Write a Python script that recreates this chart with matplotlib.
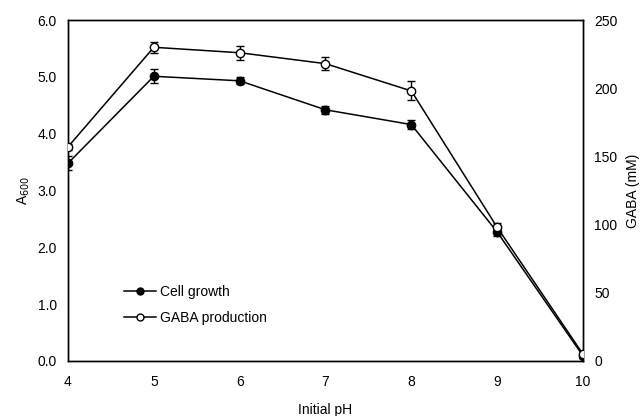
import matplotlib
matplotlib.use("Agg")
import matplotlib.pyplot as plt
from matplotlib.lines import Line2D

plt.rcParams['font.family'] = ['Liberation Sans', 'DejaVu Sans']

ph = [4, 5, 6, 7, 8, 9, 10]
cell_growth = [3.48, 5.01, 4.93, 4.42, 4.16, 2.27, 0.09]
cell_err = [0.12, 0.12, 0.06, 0.07, 0.08, 0.07, 0.03]
gaba = [157, 230, 226, 218, 198, 98, 5]
gaba_err = [2, 4, 5, 5, 7, 3, 2]

fig = plt.figure(figsize=(6.42, 4.16), dpi=100)
ax = fig.add_axes([68/642, 55/416, (583-68)/642, (361-20)/416])
ax2 = ax.twinx()

ax.errorbar(ph, cell_growth, yerr=cell_err, color='black', marker='o', markersize=6,
            markerfacecolor='black', lw=1.1, capsize=3, elinewidth=1, capthick=1, zorder=3)
ax2.errorbar(ph, gaba, yerr=gaba_err, color='black', marker='o', markersize=6,
             markerfacecolor='white', lw=1.1, capsize=3, elinewidth=1, capthick=1, zorder=3)

ax.set_xlim(4, 10)
ax.set_ylim(0, 6.0)
ax2.set_ylim(0, 250)
ax.set_xticks(ph)
ax.set_yticks([0, 1, 2, 3, 4, 5, 6])
ax.set_yticklabels([f"{v:.1f}" for v in [0, 1, 2, 3, 4, 5, 6]])
ax2.set_yticks([0, 50, 100, 150, 200, 250])
for a in (ax, ax2):
    a.tick_params(length=0, labelsize=10, pad=8)
    for s in a.spines.values():
        s.set_linewidth(1.0)
ax.tick_params(axis='x', pad=10)

ax.set_xlabel('Initial pH', fontsize=10, labelpad=10)
ax.set_ylabel('A$_{600}$', fontsize=10, labelpad=4)
ax2.set_ylabel('GABA (mM)', fontsize=10, labelpad=6)

h1 = Line2D([], [], color='black', marker='o', markersize=5, markerfacecolor='black', lw=1.1)
h2 = Line2D([], [], color='black', marker='o', markersize=5, markerfacecolor='white', lw=1.1)
ax.legend([h1, h2], ['Cell growth', 'GABA production'], loc='lower left',
          bbox_to_anchor=(0.085, 0.07), frameon=False, fontsize=10,
          handlelength=2.3, handletextpad=0.3, labelspacing=0.85)

fig.savefig('out.png', dpi=100)
